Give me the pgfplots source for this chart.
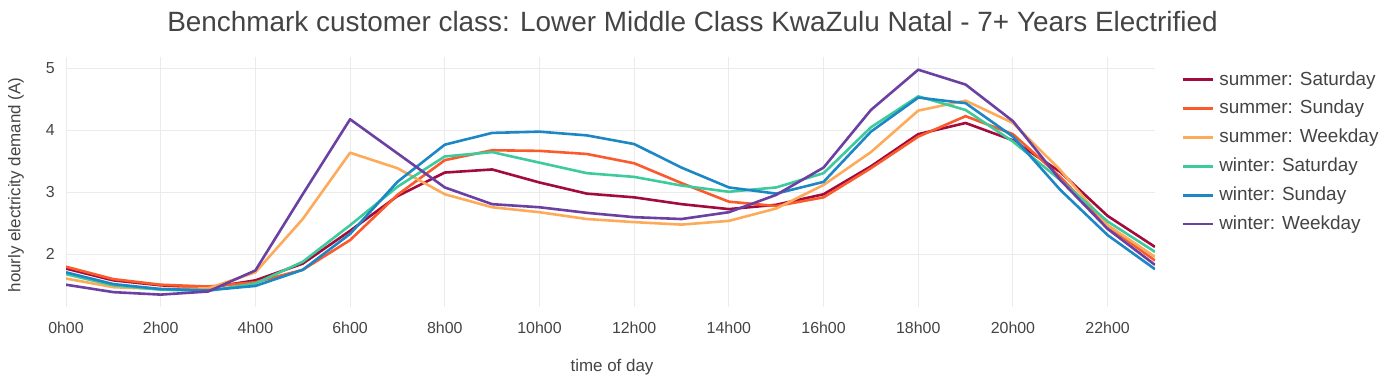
\documentclass[border=0pt]{standalone}
\usepackage{fontspec}
\setmainfont{Liberation Sans}
\usepackage{pgfplots}
\usepackage{pgfplotstable}
\pgfplotsset{compat=1.18}

\definecolor{txt}{HTML}{444444}
\definecolor{gridc}{HTML}{EBEBEB}
\definecolor{sumsat}{HTML}{A20B3C}
\definecolor{sumsun}{HTML}{FA5A2C}
\definecolor{sumwk}{HTML}{FDAA5A}
\definecolor{winsat}{HTML}{3DCB9E}
\definecolor{winsun}{HTML}{1C87C4}
\definecolor{winwk}{HTML}{6B40A3}

% hour, summer sat/sun/weekday, winter sat/sun/weekday
\pgfplotstableread{
h  ssat ssun swk  wsat wsun wwk
0  1.77 1.80 1.61 1.68 1.71 1.51
1  1.58 1.60 1.47 1.50 1.52 1.39
2  1.50 1.51 1.44 1.43 1.44 1.35
3  1.46 1.48 1.45 1.41 1.42 1.40
4  1.58 1.55 1.71 1.53 1.49 1.74
5  1.85 1.75 2.57 1.88 1.75 2.97
6  2.38 2.23 3.64 2.47 2.33 4.18
7  2.94 2.96 3.39 3.09 3.17 3.63
8  3.32 3.52 2.97 3.58 3.77 3.08
9  3.37 3.68 2.76 3.65 3.96 2.81
10 3.16 3.67 2.68 3.48 3.98 2.76
11 2.98 3.62 2.57 3.31 3.92 2.67
12 2.92 3.47 2.52 3.25 3.78 2.60
13 2.81 3.15 2.48 3.11 3.40 2.57
14 2.73 2.85 2.54 3.01 3.08 2.68
15 2.80 2.78 2.74 3.08 2.98 2.96
16 2.97 2.92 3.12 3.31 3.17 3.40
17 3.42 3.39 3.65 4.05 3.98 4.33
18 3.94 3.90 4.32 4.55 4.53 4.98
19 4.12 4.23 4.48 4.33 4.44 4.74
20 3.84 3.94 4.12 3.82 3.90 4.15
21 3.33 3.25 3.36 3.20 3.04 3.20
22 2.62 2.45 2.47 2.53 2.31 2.41
23 2.12 1.90 1.96 2.04 1.76 1.83
}\demand

\begin{document}
\begin{tikzpicture}
\path (0,0) rectangle (1386bp,381bp);
\begin{axis}[
    at={(66bp,74.3bp)}, anchor=south west,
    scale only axis,
    width=1089bp, height=250bp,
    xmin=0, xmax=23, ymin=1.155, ymax=5.19,
    axis line style={draw=none},
    major tick length=0pt,
    grid=major,
    major grid style={gridc, line width=1bp},
    xtick={0,2,...,22},
    xticklabels={0h00,2h00,4h00,6h00,8h00,10h00,12h00,14h00,16h00,18h00,20h00,22h00},
    ytick={2,3,4,5},
    yticklabels={2,3,4,5},
    tick label style={font=\fontsize{16}{19}\selectfont, text=txt},
    xticklabel style={anchor=base, inner sep=0pt, yshift=-27.2bp},
    yticklabel style={anchor=east, inner sep=0pt, xshift=-11bp},
    every axis plot/.append style={line width=2.6bp, line join=round, mark=none},
    legend cell align=left,
    legend style={at={(1.0245,0.9424)}, anchor=north west, draw=none, fill=none,
        inner sep=0pt, outer sep=0pt, column sep=5bp, row sep=9.9bp,
        font=\fontsize{19}{22}\selectfont, text=txt,
        nodes={inner sep=0pt, text height=14bp, text depth=5bp}},
    legend image code/.code={\draw[#1, line width=2.6bp] (0bp,0.9bp) -- (30bp,0.9bp);},
]
\addplot[sumsat] table[x=h, y=ssat] {\demand};
\addlegendentry{summer: Saturday}
\addplot[sumsun] table[x=h, y=ssun] {\demand};
\addlegendentry{summer: Sunday}
\addplot[sumwk] table[x=h, y=swk] {\demand};
\addlegendentry{summer: Weekday}
\addplot[winsat] table[x=h, y=wsat] {\demand};
\addlegendentry{winter: Saturday}
\addplot[winsun] table[x=h, y=wsun] {\demand};
\addlegendentry{winter: Sunday}
\addplot[winwk] table[x=h, y=wwk] {\demand};
\addlegendentry{winter: Weekday}
\end{axis}
\node[anchor=base, text=txt, font=\fontsize{28}{33}\selectfont, inner sep=0pt]
    at (692.5bp,349.3bp) {Benchmark customer class: Lower Middle Class KwaZulu Natal - 7+ Years Electrified};
\node[rotate=90, text=txt, font=\fontsize{17}{20}\selectfont, inner sep=0pt]
    at (16bp,196bp) {hourly electricity demand (A)};
\node[text=txt, font=\fontsize{17}{20}\selectfont, inner sep=0pt]
    at (612bp,14bp) {time of day};
\end{tikzpicture}
\end{document}
